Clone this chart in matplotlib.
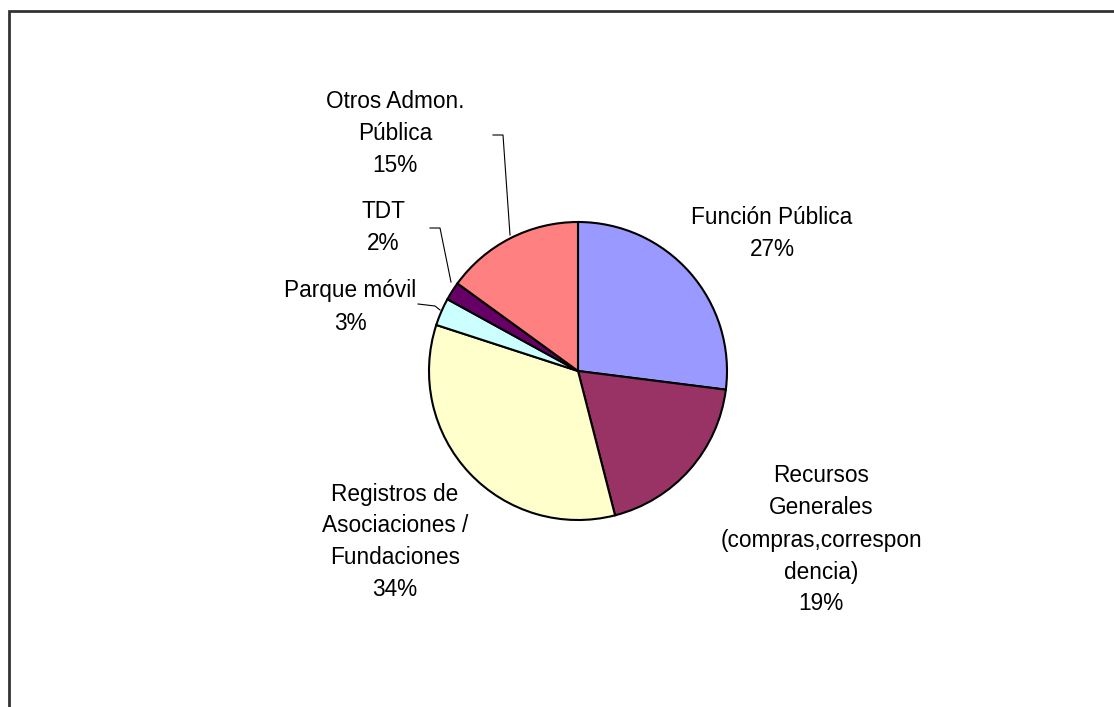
import matplotlib
matplotlib.use("Agg")
from matplotlib import pyplot as plt
from matplotlib.patches import Rectangle

plt.rcParams['font.family'] = ['Liberation Sans', 'DejaVu Sans']

# Data
categories = ["Función Pública",
              "Recursos\nGenerales\n(compras,correspon\ndencia)",
              "Registros de\nAsociaciones /\nFundaciones",
              "Parque móvil",
              "TDT",
              "Otros Admon.\nPública"]
shares = [27, 19, 34, 3, 2, 15]
colors = ["#9999FF", "#993366", "#FFFFCC", "#CCFFFF", "#660066", "#FF8080"]

W, H = 1114, 707
fig = plt.figure(figsize=(W / 100, H / 100), dpi=100)
ax = fig.add_axes([0, 0, 1, 1])

# pixel helper (y measured from top)
def px(x, y):
    return (x, H - y)

ax.pie(shares, colors=colors, startangle=90, counterclock=False,
       center=px(578, 371), radius=149,
       wedgeprops=dict(edgecolor="black", linewidth=1.5))
ax.set_xlim(0, W)
ax.set_ylim(0, H)
ax.set_aspect("auto")
ax.axis("off")

# labels
label_pos = [(772, 234), (821, 540), (395, 542), (350, 307), (383, 227), (395, 133)]
for name, val, (x, y) in zip(categories, shares, label_pos):
    ax.text(*px(x, y), f"{name}\n{val}%", ha="center", va="center",
            fontsize=16.3, linespacing=1.5, color="black")

# leader lines
leaders = [
    [(510, 235), (503, 135), (493, 135)],
    [(451, 282), (440, 228), (430, 228)],
    [(440, 310), (435, 306), (418, 304)],
]
for pts in leaders:
    xs = [p[0] for p in pts]
    ys = [H - p[1] for p in pts]
    ax.plot(xs, ys, color="black", linewidth=0.8)

# outer frame of the chart area (right and bottom edges fall outside the image)
fig.patches.append(Rectangle((9 / W, -1), 2, 1 + (H - 11) / H, transform=fig.transFigure,
                             fill=False, edgecolor="#333333", linewidth=2))

fig.savefig("out.png", dpi=100)
